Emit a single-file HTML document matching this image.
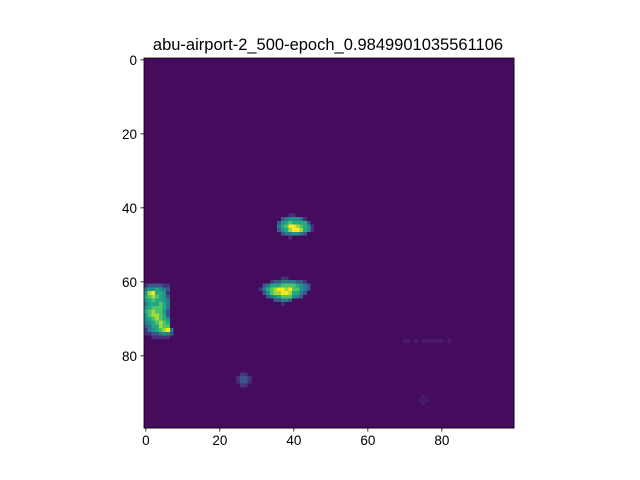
<!DOCTYPE html>
<html><head><meta charset="utf-8"><style>
body{margin:0;background:#fff;}
svg{display:block;font-family:"Liberation Sans","DejaVu Sans",sans-serif;}
</style></head><body>
<svg id="chart" width="640" height="480">
<text x="328" y="50" font-size="16.5" text-anchor="middle" fill="#000">abu-airport-2_500-epoch_0.9849901035561106</text>
<g id="cells" shape-rendering="crispEdges"></g>
<g id="axes"></g>
</svg>
<script>
const nRows = 100;
const nCols = 100;
const background = 0.03;
const xTicks = [0, 20, 40, 60, 80];
const yTicks = [0, 20, 40, 60, 80];
// digit -> value lookup
const levels = [0.03, 0.07, 0.14, 0.27, 0.4, 0.5, 0.6, 0.72, 0.86, 1.0];
// blobs: [startRow, startCol, rows of digits 0-9 ('.' = background)]
const blobA = [42, 34, [
".....22......",
"...3455542...",
"..356766663..",
"..4679987652.",
"..3568998652.",
"...3445543...",
".....2......."]];
const blobB = [59, 31, [
"......22......",
"...2334444332.",
".3466677776543",
"24678998977543",
".357889986643.",
"..3456777543..",
"....33443.....",
"......2......."]];
const blobC = [61, 0, [
"2333322.",
"4556543.",
"5896652.",
"6787653.",
"5676654.",
"4666764.",
"5677764.",
"6787753.",
"5788763.",
"5678765.",
"4567876.",
"3466877.",
"24567894",
"22334543",
"..22222."]];
const blobD = [85, 25, [
".22.",
"2332",
"2332",
".22."]];
const blobE = [76, 70, [
"11.1.111111.1"]];
const blobF = [91, 74, [
".1.",
"111",
".1."]];
const blobs = [blobA, blobB, blobC, blobD, blobE, blobF];

const vir = [[68,1,84],[72,36,117],[65,68,135],[53,95,141],[42,120,142],[33,145,140],[34,168,132],[68,191,112],[122,209,81],[189,223,38],[253,231,37]];
function cmap(v){v=Math.max(0,Math.min(1,v));const t=v*10,i=Math.min(9,Math.floor(t)),f=t-i;const a=vir[i],b=vir[i+1];
return `rgb(${Math.round(a[0]+(b[0]-a[0])*f)},${Math.round(a[1]+(b[1]-a[1])*f)},${Math.round(a[2]+(b[2]-a[2])*f)})`;}

const L=144, T=58, W=370, H=370;
const cw=W/nCols, ch=H/nRows;
const xs=c=>L+c*cw, ys=r=>T+r*ch;
const grid=[];
for(let r=0;r<nRows;r++){grid.push(new Array(nCols).fill(background));}
blobs.forEach(b=>{const [r0,c0,rows]=b;rows.forEach((s,i)=>{for(let j=0;j<s.length;j++){const d=s[j];if(d!=='.'&&d!==' '){const r=r0+i,c=c0+j;if(r<nRows&&c<nCols){grid[r][c]=Math.max(background,levels[parseInt(d)]);}}}});});
const NS="http://www.w3.org/2000/svg";
const g=document.getElementById('cells');
for(let r=0;r<nRows;r++)for(let c=0;c<nCols;c++){
const el=document.createElementNS(NS,'rect');
el.setAttribute('x',xs(c));el.setAttribute('y',ys(r));
el.setAttribute('width',cw+0.5);el.setAttribute('height',ch+0.5);
el.setAttribute('fill',cmap(grid[r][c]));


g.appendChild(el);}
const ax=document.getElementById('axes');
const fr=document.createElementNS(NS,'rect');
fr.setAttribute('x',L);fr.setAttribute('y',T);fr.setAttribute('width',W);fr.setAttribute('height',H);
fr.setAttribute('fill','none');fr.setAttribute('stroke','#000');fr.setAttribute('stroke-width','0.8');


ax.appendChild(fr);
xTicks.forEach(t=>{const x=xs(t+0.5);
const l=document.createElementNS(NS,'line');l.setAttribute('x1',x);l.setAttribute('x2',x);l.setAttribute('y1',T+H);l.setAttribute('y2',T+H+3.5);l.setAttribute('stroke','#000');l.setAttribute('stroke-width','0.8');


ax.appendChild(l);
const tx=document.createElementNS(NS,'text');tx.setAttribute('x',x);tx.setAttribute('y',T+H+17);tx.setAttribute('font-size','13.5');tx.setAttribute('text-anchor','middle');tx.textContent=t;


ax.appendChild(tx);});
yTicks.forEach(t=>{const y=ys(t+0.5);
const l=document.createElementNS(NS,'line');l.setAttribute('x1',L-3.5);l.setAttribute('x2',L);l.setAttribute('y1',y);l.setAttribute('y2',y);l.setAttribute('stroke','#000');l.setAttribute('stroke-width','0.8');


ax.appendChild(l);
const tx=document.createElementNS(NS,'text');tx.setAttribute('x',L-7);tx.setAttribute('y',y+5);tx.setAttribute('font-size','13.5');tx.setAttribute('text-anchor','end');tx.textContent=t;


ax.appendChild(tx);});
</script>
</body></html>
